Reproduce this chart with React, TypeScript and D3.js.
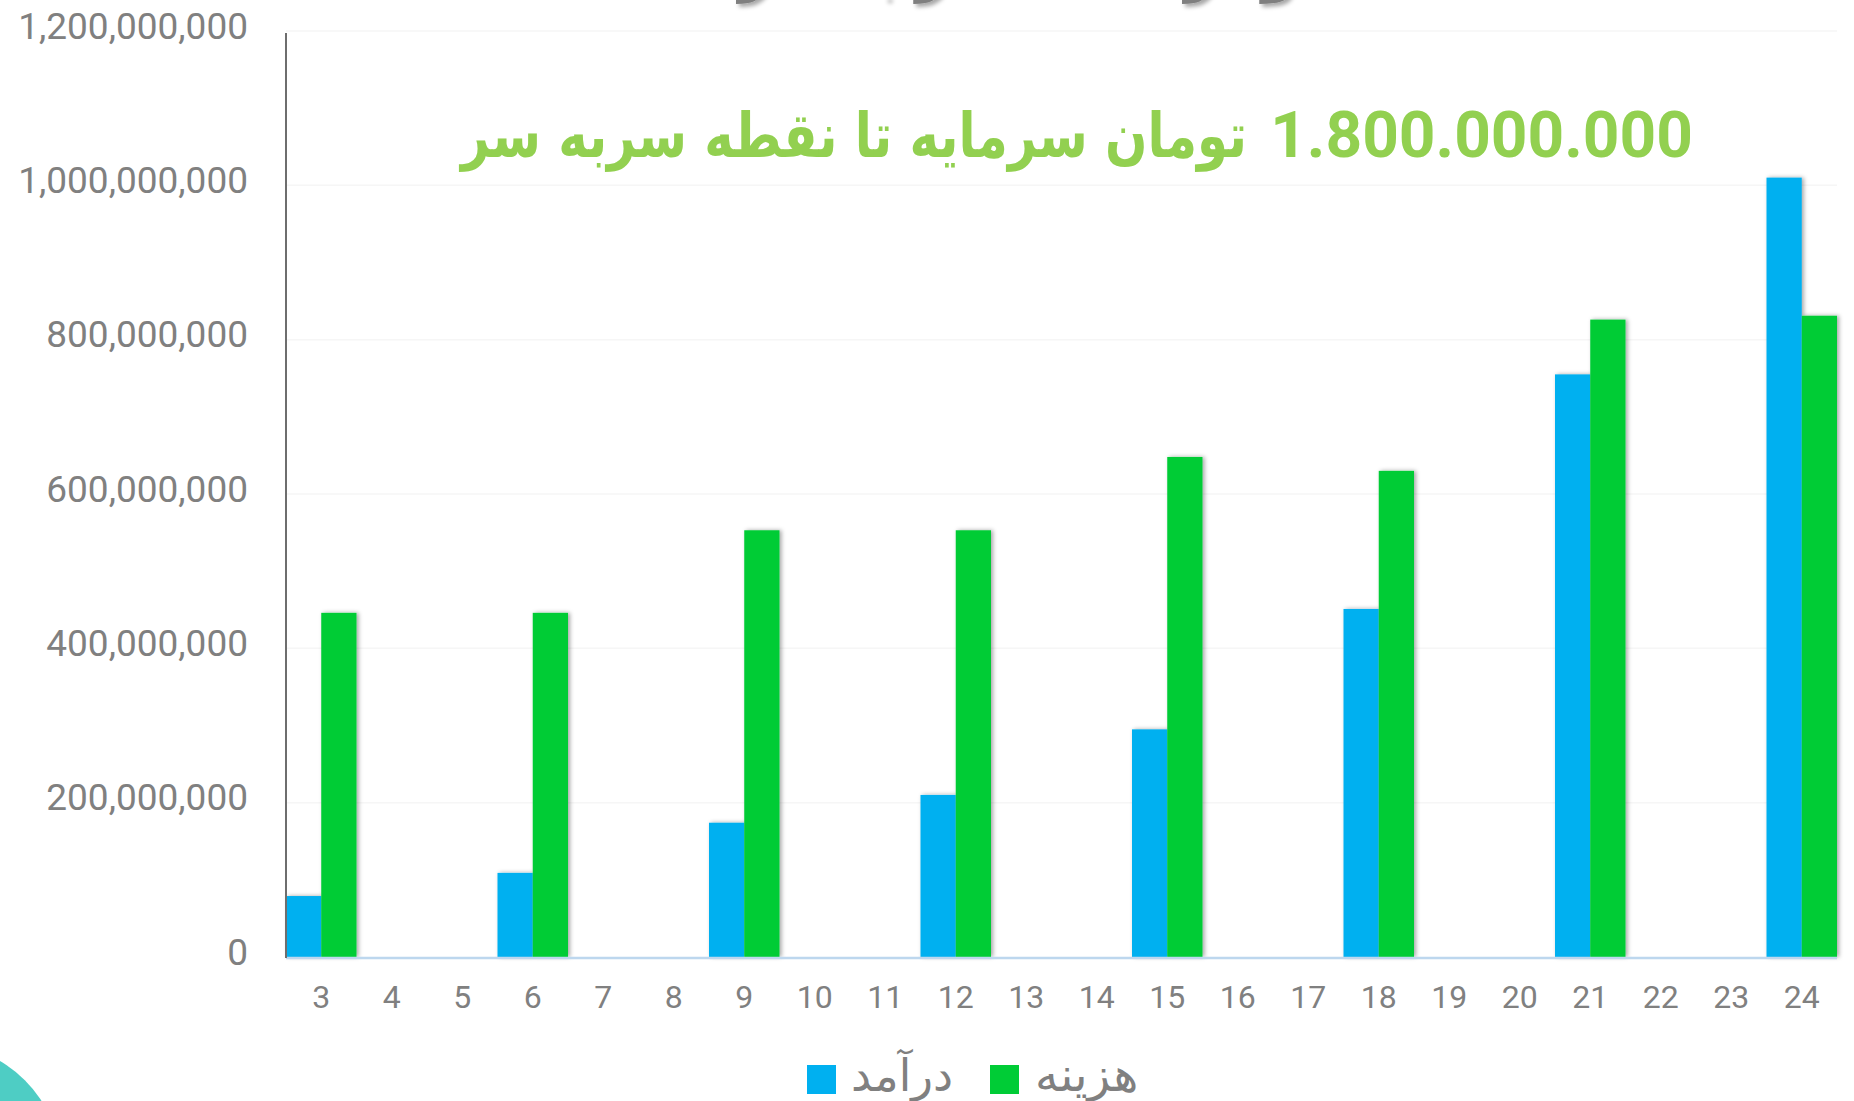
import React from "react";
import * as d3 from "d3";

const months = [3, 4, 5, 6, 7, 8, 9, 10, 11, 12, 13, 14, 15, 16, 17, 18, 19, 20, 21, 22, 23, 24];
const incomeMonths = [3, 6, 9, 12, 15, 18, 21, 24];
const incomeValues = [79e6, 109e6, 174e6, 210e6, 295e6, 451e6, 755e6, 1010e6];
const costValues = [446e6, 446e6, 553e6, 553e6, 648e6, 630e6, 826e6, 831e6];
const yTicks = [0, 200e6, 400e6, 600e6, 800e6, 1000e6, 1200e6];
const seriesNames = ["درآمد", "هزینه"];
const annotationAmount = "1.800.000.000";
const annotationText = "تومان سرمایه تا نقطه سربه سر";
const titleText = "نمودار نقطه سر به سر";

const W = 1854;
const H = 1101;
const BLUE = "#00B0F0";
const GREEN = "#00CC36";

export default function App() {
  const x = d3.scaleBand<number>().domain(months).range([286, 1837]).padding(0);
  const y = d3.scaleLinear().domain([0, 1200e6]).range([957, 31]);
  const bw = x.bandwidth() / 2;
  const fmt = d3.format(",");

  return (
    <svg
      width={W}
      height={H}
      style={{ position: "absolute", left: 0, top: 0, background: "#fff" }}
    >
      <defs>
        <filter id="sh" x="-30%" y="-5%" width="160%" height="110%">
          <feDropShadow dx="2" dy="0" stdDeviation="2" floodColor="#000" floodOpacity="0.35" />
        </filter>
        <filter id="tsh" x="-10%" y="-50%" width="120%" height="200%">
          <feDropShadow dx="3" dy="3" stdDeviation="2" floodColor="#000" floodOpacity="0.35" />
        </filter>
      </defs>

      {/* cut-off title */}
      <text
        x={1045}
        y={-9}
        textAnchor="middle"
        fontFamily="'DejaVu Sans'"
        fontWeight="bold"
        fontSize={54}
        fill="#7f7f7f"
        filter="url(#tsh)"
        style={{ direction: "rtl" }}
      >
        {titleText}
      </text>

      {/* gridlines */}
      {yTicks.slice(1).map((t) => (
        <line key={t} x1={286} x2={1837} y1={y(t)} y2={y(t)} stroke="#f6f6f6" strokeWidth={1.5} />
      ))}

      {/* y labels */}
      {yTicks.map((t) => (
        <text
          key={t}
          x={248}
          y={y(t) - 5}
          textAnchor="end"
          dominantBaseline="central"
          fontFamily="Roboto"
          fontSize={37}
          fill="#808080"
        >
          {fmt(t)}
        </text>
      ))}

      {/* bars */}
      {incomeMonths.map((m, i) => (
        <g key={m} filter="url(#sh)">
          <rect x={x(m)!} y={y(incomeValues[i])} width={bw} height={y(0) - y(incomeValues[i])} fill={BLUE} />
          <rect x={x(m)! + bw} y={y(costValues[i])} width={bw} height={y(0) - y(costValues[i])} fill={GREEN} />
        </g>
      ))}

      {/* axes */}
      <line x1={286} x2={1837} y1={958} y2={958} stroke="#BDD7EE" strokeWidth={2.5} />
      <line x1={286} x2={286} y1={33} y2={958} stroke="#6e6e6e" strokeWidth={2} />

      {/* x labels */}
      {months.map((m) => (
        <text
          key={m}
          x={x(m)! + x.bandwidth() / 2}
          y={997}
          textAnchor="middle"
          dominantBaseline="central"
          fontFamily="Roboto"
          fontSize={32}
          fill="#808080"
        >
          {m}
        </text>
      ))}

      {/* annotation */}
      <text
        x={1693}
        y={157}
        textAnchor="end"
        fontFamily="Roboto"
        fontWeight="bold"
        fontSize={64}
        fill="#92D050"
      >
        {annotationAmount}
      </text>
      <text
        x={461}
        y={157}
        textAnchor="start"
        fontFamily="'DejaVu Sans'"
        fontWeight="bold"
        fontSize={62}
        fill="#92D050"
        textLength={786}
        lengthAdjust="spacingAndGlyphs"
      >
        {annotationText}
      </text>

      {/* legend */}
      <rect x={807} y={1065} width={29} height={29} fill={BLUE} />
      <text x={851} y={1091} fontFamily="'DejaVu Sans'" fontSize={45} fill="#808080">
        {seriesNames[0]}
      </text>
      <rect x={990} y={1065} width={29} height={29} fill={GREEN} />
      <text x={1035} y={1091} fontFamily="'DejaVu Sans'" fontSize={47} fill="#808080">
        {seriesNames[1]}
      </text>

      {/* decorative circle */}
      <circle cx={-60} cy={1165} r={120} fill="#4ECDC4" />
    </svg>
  );
}
